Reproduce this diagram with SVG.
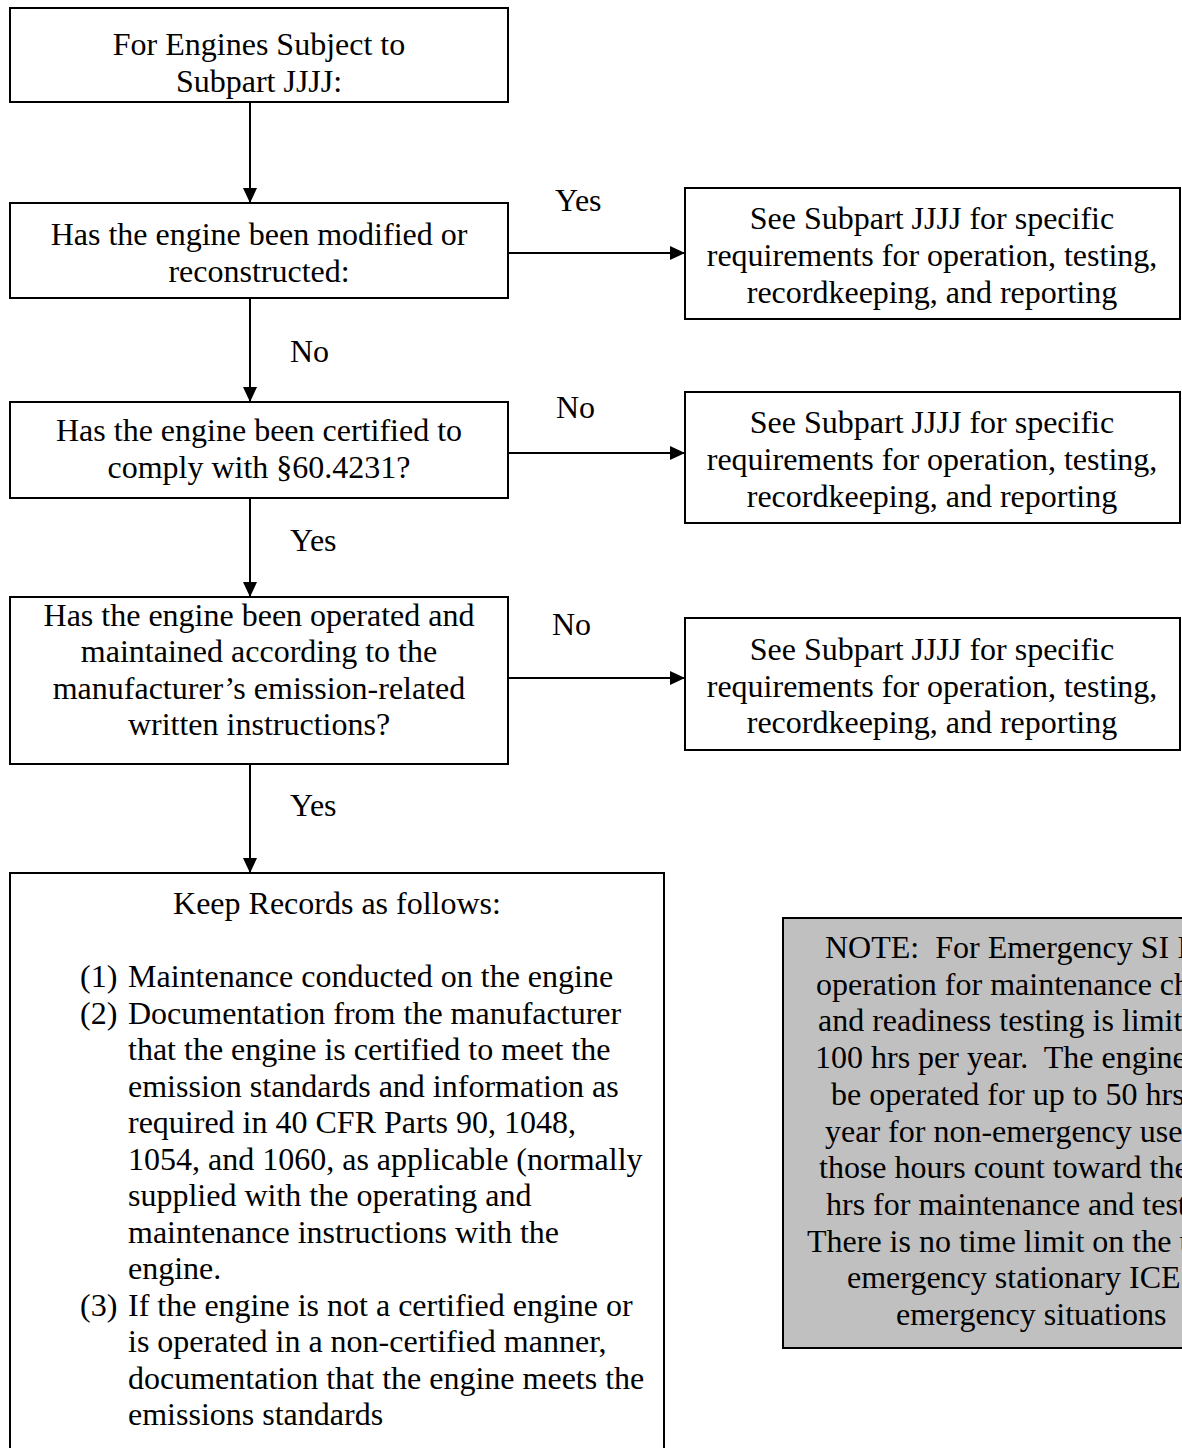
<svg xmlns="http://www.w3.org/2000/svg" width="1182" height="1448" viewBox="0 0 1182 1448">
<defs>
<marker id="arr" markerUnits="userSpaceOnUse" markerWidth="16" markerHeight="16" refX="15" refY="7" orient="auto"><path d="M0,0 L15,7 L0,14 Z" fill="#000"/></marker>
<style>
.box{fill:#fff;stroke:#000;stroke-width:2}
.note{fill:#c0c0c0;stroke:#000;stroke-width:2}
text{font-family:"Liberation Serif","Times New Roman",serif;font-size:32px;fill:#000;white-space:pre}
.c{text-anchor:middle}
.conn{stroke:#000;stroke-width:2;fill:none;marker-end:url(#arr)}
</style>
</defs>
<rect width="1182" height="1448" fill="#fff"/>
<g id="connectors">
<line class="conn" x1="250" y1="102" x2="250" y2="203"/>
<line class="conn" x1="508" y1="253" x2="685" y2="253"/>
<line class="conn" x1="250" y1="298" x2="250" y2="402"/>
<line class="conn" x1="508" y1="453" x2="685" y2="453"/>
<line class="conn" x1="250" y1="498" x2="250" y2="597"/>
<line class="conn" x1="508" y1="678" x2="685" y2="678"/>
<line class="conn" x1="250" y1="764" x2="250" y2="873"/>
<text x="555" y="211">Yes</text>
<text x="290" y="362">No</text>
<text x="556" y="418">No</text>
<text x="290" y="551">Yes</text>
<text x="552" y="635">No</text>
<text x="290" y="816">Yes</text>
</g>
<g id="start">
<rect class="box" x="10" y="8" width="498" height="94"/>
<text class="c" x="259" y="55">For Engines Subject to</text>
<text class="c" x="259" y="92">Subpart JJJJ:</text>
</g>
<g id="q-modified">
<rect class="box" x="10" y="203" width="498" height="95"/>
<text class="c" x="259" y="245">Has the engine been modified or</text>
<text class="c" x="259" y="282">reconstructed:</text>
</g>
<g id="r1">
<rect class="box" x="685" y="188" width="495" height="131"/>
<text class="c" x="932" y="229">See Subpart JJJJ for specific</text>
<text class="c" x="932" y="266">requirements for operation, testing,</text>
<text class="c" x="932" y="303">recordkeeping, and reporting</text>
</g>
<g id="q-certified">
<rect class="box" x="10" y="402" width="498" height="96"/>
<text class="c" x="259" y="441">Has the engine been certified to</text>
<text class="c" x="259" y="478">comply with §60.4231?</text>
</g>
<g id="r2">
<rect class="box" x="685" y="392" width="495" height="131"/>
<text class="c" x="932" y="433">See Subpart JJJJ for specific</text>
<text class="c" x="932" y="470">requirements for operation, testing,</text>
<text class="c" x="932" y="507">recordkeeping, and reporting</text>
</g>
<g id="q-operated">
<rect class="box" x="10" y="597" width="498" height="167"/>
<text class="c" x="259" y="626">Has the engine been operated and</text>
<text class="c" x="259" y="662">maintained according to the</text>
<text class="c" x="259" y="699">manufacturer’s emission-related</text>
<text class="c" x="259" y="735">written instructions?</text>
</g>
<g id="r3">
<rect class="box" x="685" y="618" width="495" height="132"/>
<text class="c" x="932" y="660">See Subpart JJJJ for specific</text>
<text class="c" x="932" y="697">requirements for operation, testing,</text>
<text class="c" x="932" y="733">recordkeeping, and reporting</text>
</g>
<g id="records">
<rect class="box" x="10" y="873" width="654" height="600"/>
<text class="c" x="337" y="914">Keep Records as follows:</text>
<text x="80" y="987">(1)</text><text x="128" y="987">Maintenance conducted on the engine</text>
<text x="80" y="1023.5">(2)</text><text x="128" y="1023.5">Documentation from the manufacturer</text>
<text x="128" y="1060">that the engine is certified to meet the</text>
<text x="128" y="1096.5">emission standards and information as</text>
<text x="128" y="1133">required in 40 CFR Parts 90, 1048,</text>
<text x="128" y="1169.5">1054, and 1060, as applicable (normally</text>
<text x="128" y="1206">supplied with the operating and</text>
<text x="128" y="1242.5">maintenance instructions with the</text>
<text x="128" y="1279">engine.</text>
<text x="80" y="1315.5">(3)</text><text x="128" y="1315.5">If the engine is not a certified engine or</text>
<text x="128" y="1352">is operated in a non-certified manner,</text>
<text x="128" y="1388.5">documentation that the engine meets the</text>
<text x="128" y="1425">emissions standards</text>
</g>
<g id="note">
<rect class="note" x="783" y="918" width="496" height="430"/>
<text x="825" y="958">NOTE:  For Emergency SI I</text>
<text x="816" y="994.7">operation for maintenance ch</text>
<text x="818" y="1031.4">and readiness testing is limit</text>
<text x="815" y="1068.1">100 hrs per year.  The engine</text>
<text x="831" y="1104.8">be operated for up to 50 hrs</text>
<text x="825" y="1141.5">year for non-emergency use</text>
<text x="819" y="1178.2">those hours count toward the</text>
<text x="826" y="1214.9">hrs for maintenance and test</text>
<text x="807" y="1251.6">There is no time limit on the u</text>
<text x="847" y="1288.3">emergency stationary ICE</text>
<text x="896" y="1325">emergency situations</text>
</g>
</svg>
